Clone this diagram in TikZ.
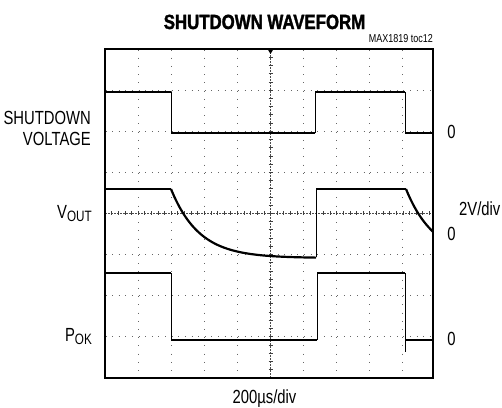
\documentclass[tikz,border=0pt]{standalone}
\usepackage{fontspec}
\setmainfont{Liberation Sans}[FakeStretch=0.78]
\newfontfamily\titlefont{Liberation Sans}[FakeStretch=0.82,FakeBold=1.6]
\begin{document}
\begin{tikzpicture}[x=1pt,y=-1pt,
  lvl/.style={line width=2.6pt},
  edg/.style={line width=0.9pt},
  frm/.style={line width=2pt},
  hgrid/.style={black!60,line width=1pt,dash pattern=on 1pt off 5.62pt,dash phase=6.12pt},
  vgrid/.style={black!60,line width=1pt,dash pattern=on 1pt off 7.22pt,dash phase=7.72pt},
  axl/.style={black!70,line width=0.6pt,dash pattern=on 1.5pt off 1.5pt},
  tck/.style={black!75,line width=0.7pt},
  lbl/.style={font=\fontsize{19}{22}\selectfont,inner sep=0pt}
]
\useasboundingbox (0,0) rectangle (502,407);
% grid
\foreach \i in {1,2,3,4,6,7,8,9}
  \draw[vgrid] ({105+33.1*\i},49) -- ({105+33.1*\i},378);
\foreach \j in {1,2,3,5,6,7}
  \draw[hgrid] (105,{49+41.1*\j}) -- (433,{49+41.1*\j});
% center axes
\draw[axl] (105,213.4) -- (433,213.4);
\draw[axl] (270.5,49) -- (270.5,378);
\foreach \k in {1,...,49}
  \draw[tck] ({105+6.62*\k},211.4) -- ++(0,4);
\foreach \k in {1,...,39}
  \draw[tck] (268.5,{49+8.22*\k}) -- ++(4,0);
% trigger marker
\fill (267.5,49) -- (273.5,49) -- (270.5,54) -- cycle;
% shutdown trace
\draw[lvl] (105,92) -- (171,92);
\draw[edg] (171,92) -- (171,133);
\draw[lvl] (171,133) -- (315,133);
\draw[edg] (315,133) -- (315,92);
\draw[lvl] (315,92) -- (405,92);
\draw[edg] (405,92) -- (405,133);
\draw[lvl] (405,133) -- (433,133);
% VOUT trace
\draw[lvl] (105,189) -- (171,189);
\draw[line width=2.2pt] plot[domain=0:145,samples=90,smooth] ({171+\x},{189+69*(1-exp(-\x/28))});
\draw[edg] (316,257.4) -- (316,189);
\draw[lvl] (316,189) -- (406,189);
\draw[line width=2.2pt] plot[domain=0:27,samples=30,smooth] ({406+\x},{189+69*(1-exp(-\x/28))});
% POK trace
\draw[lvl] (105,273) -- (171,273);
\draw[edg] (171,273) -- (171,340);
\draw[lvl] (171,340) -- (317,340);
\draw[edg] (317,340) -- (317,273);
\draw[lvl] (317,273) -- (405,273);
\draw[edg] (405,273) -- (405,352);
\draw[lvl] (405,340) -- (433,340);
% frame
\draw[frm] (105,49) rectangle (433,378);
% texts
\node[inner sep=0pt,anchor=base,font=\titlefont\bfseries\fontsize{20.5}{22}\selectfont] (title) at (264.5,29) {SHUTDOWN WAVEFORM};
\node[inner sep=0pt,anchor=base east,font=\fontsize{11.5}{13}\selectfont] (ref) at (433,42) {MAX1819 toc12};
\node[lbl,anchor=base east] (sd1) at (91,124) {SHUTDOWN};
\node[lbl,anchor=base east] (sd2) at (91,145) {VOLTAGE};
\node[lbl,anchor=base east] (vout) at (92,218) {V\raisebox{-3pt}{\fontsize{15}{16}\selectfont OUT}};
\node[lbl,anchor=base east] (pok) at (92,341) {P\raisebox{-3pt}{\fontsize{15}{16}\selectfont OK}};
\node[lbl,anchor=base] (z1) at (451.5,138) {0};
\node[lbl,anchor=base] (z2) at (451.5,240) {0};
\node[lbl,anchor=base] (z3) at (451.5,345) {0};
\node[lbl,anchor=base west] (vdiv) at (459,215) {2V/div};
\node[lbl,anchor=base] (tdiv) at (264.5,403) {200µs/div};
\end{tikzpicture}
\end{document}
